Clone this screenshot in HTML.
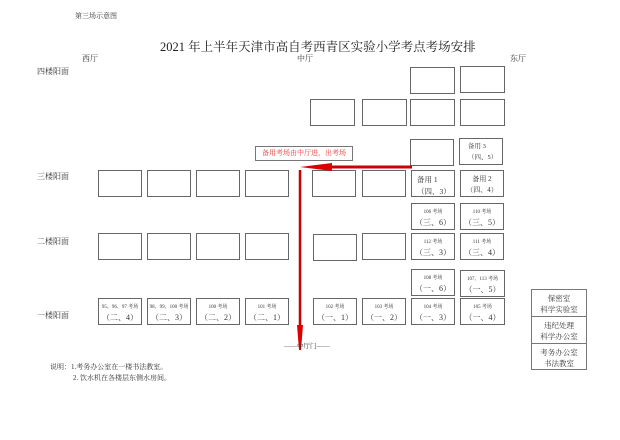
<!DOCTYPE html>
<html><head><meta charset="utf-8"><style>
body{margin:0;width:620px;height:440px;background:#fff;position:relative;overflow:hidden;font-family:"Liberation Serif","Noto Serif CJK SC",serif;color:#333}
.t{position:absolute;white-space:nowrap}
.b{position:absolute;border:1.5px solid #666;box-sizing:border-box;background:#fff;text-align:center;font-size:5px;line-height:1}
.b .s{margin-top:6px}
.b .l{font-size:8px;margin-top:4px}
.r{position:absolute;border:1px solid #777;box-sizing:border-box;text-align:center;font-size:7.5px;line-height:11px;padding-top:3px}
</style></head><body>
<div class="t" style="left:75px;top:11px;font-size:7px">第三场示意图</div>
<div class="t" style="left:160px;top:37px;font-size:12.5px;color:#222">2021 年上半年天津市高自考西青区实验小学考点考场安排</div>
<div class="t" style="left:82px;top:53px;font-size:8px">西厅</div>
<div class="t" style="left:297px;top:53px;font-size:8px">中厅</div>
<div class="t" style="left:510px;top:53px;font-size:8px">东厅</div>
<div class="t" style="left:37px;top:66px;font-size:8px">四楼阳面</div>
<div class="t" style="left:37px;top:171px;font-size:8px">三楼阳面</div>
<div class="t" style="left:37px;top:236px;font-size:8px">二楼阳面</div>
<div class="t" style="left:37px;top:310px;font-size:8px">一楼阳面</div>

<div class="b" style="left:410px;top:67px;width:45px;height:27px"></div>
<div class="b" style="left:460px;top:66px;width:45px;height:27px"></div>
<div class="b" style="left:310px;top:99px;width:45px;height:27px"></div>
<div class="b" style="left:362px;top:99px;width:45px;height:27px"></div>
<div class="b" style="left:410px;top:99px;width:45px;height:27px"></div>
<div class="b" style="left:460px;top:99px;width:45px;height:27px"></div>

<div class="b" style="left:410px;top:139px;width:44px;height:27px"></div>
<div class="b" style="left:459px;top:138px;width:44px;height:27px;font-size:6.5px;text-align:left;padding-left:8px"><div style="margin-top:5px">备用 3</div><div style="margin-top:4px">（四、5）</div></div>

<div class="b" style="left:98px;top:170px;width:44px;height:27px"></div>
<div class="b" style="left:147px;top:170px;width:44px;height:27px"></div>
<div class="b" style="left:196px;top:170px;width:44px;height:27px"></div>
<div class="b" style="left:245px;top:170px;width:44px;height:27px"></div>
<div class="b" style="left:312px;top:170px;width:44px;height:27px"></div>
<div class="b" style="left:362px;top:170px;width:44px;height:27px"></div>
<div class="b" style="left:411px;top:170px;width:44px;height:27px;font-size:7.5px;text-align:left;padding-left:5px"><div style="margin-top:5px">备用 1</div><div style="margin-top:4px">（四、3）</div></div>
<div class="b" style="left:460px;top:170px;width:44px;height:27px;font-size:7px"><div style="margin-top:5px">备用 2</div><div style="margin-top:4px">（四、4）</div></div>

<div class="b" style="left:411px;top:203px;width:44px;height:27px"><div class="s">106 考场</div><div class="l">（三、6）</div></div>
<div class="b" style="left:460px;top:203px;width:44px;height:27px"><div class="s">110 考场</div><div class="l">（三、5）</div></div>

<div class="b" style="left:98px;top:233px;width:44px;height:27px"></div>
<div class="b" style="left:147px;top:233px;width:44px;height:27px"></div>
<div class="b" style="left:196px;top:233px;width:44px;height:27px"></div>
<div class="b" style="left:245px;top:233px;width:44px;height:27px"></div>
<div class="b" style="left:313px;top:234px;width:44px;height:27px"></div>
<div class="b" style="left:362px;top:233px;width:44px;height:27px"></div>
<div class="b" style="left:411px;top:233px;width:44px;height:27px"><div class="s">112 考场</div><div class="l">（三、3）</div></div>
<div class="b" style="left:460px;top:233px;width:44px;height:27px"><div class="s">111 考场</div><div class="l">（三、4）</div></div>

<div class="b" style="left:411px;top:269px;width:44px;height:27px"><div class="s">108 考场</div><div class="l">（一、6）</div></div>
<div class="b" style="left:460px;top:270px;width:45px;height:27px"><div class="s">107、113 考场</div><div class="l">（一、5）</div></div>

<div class="b" style="left:98px;top:298px;width:44px;height:27px"><div class="s">95、96、97 考场</div><div class="l">（二、4）</div></div>
<div class="b" style="left:147px;top:298px;width:44px;height:27px"><div class="s">98、99、100 考场</div><div class="l">（二、3）</div></div>
<div class="b" style="left:196px;top:298px;width:44px;height:27px"><div class="s">100 考场</div><div class="l">（二、2）</div></div>
<div class="b" style="left:245px;top:298px;width:44px;height:27px"><div class="s">101 考场</div><div class="l">（二、1）</div></div>
<div class="b" style="left:313px;top:298px;width:44px;height:27px"><div class="s">102 考场</div><div class="l">（一、1）</div></div>
<div class="b" style="left:362px;top:298px;width:44px;height:27px"><div class="s">103 考场</div><div class="l">（一、2）</div></div>
<div class="b" style="left:411px;top:298px;width:44px;height:27px"><div class="s">104 考场</div><div class="l">（一、3）</div></div>
<div class="b" style="left:460px;top:298px;width:45px;height:27px"><div class="s">105 考场</div><div class="l">（一、4）</div></div>

<div class="r" style="left:531px;top:289px;width:56px;height:28px">保密室<br>科学实验室</div>
<div class="r" style="left:531px;top:316px;width:56px;height:28px">违纪处理<br>科学办公室</div>
<div class="r" style="left:531px;top:343px;width:56px;height:27px">考务办公室<br>书法教室</div>

<div style="position:absolute;left:255px;top:146px;width:98px;height:15px;border:1px solid #777;box-sizing:border-box;color:#e33;font-size:7px;line-height:13px;text-align:center">备用考场由中厅进，出考场</div>

<svg style="position:absolute;left:0;top:0" width="620" height="440">
<line x1="330" y1="167" x2="412" y2="167" stroke="#c00" stroke-width="3"/>
<polygon points="300,167 332,163 332,171" fill="#d00"/>
<line x1="300" y1="170" x2="300" y2="330" stroke="#c00" stroke-width="2.5"/>
<polygon points="297,325 303,325 301,350 299,350" fill="#d00"/>
</svg>
<div class="t" style="left:284px;top:341px;font-size:6.5px">——中厅门——</div>
<div class="t" style="left:50px;top:362px;font-size:7px">说明：1.考务办公室在一楼书法教室。</div>
<div class="t" style="left:73px;top:373px;font-size:7px">2. 饮水机在各楼层东侧水房间。</div>
</body></html>
